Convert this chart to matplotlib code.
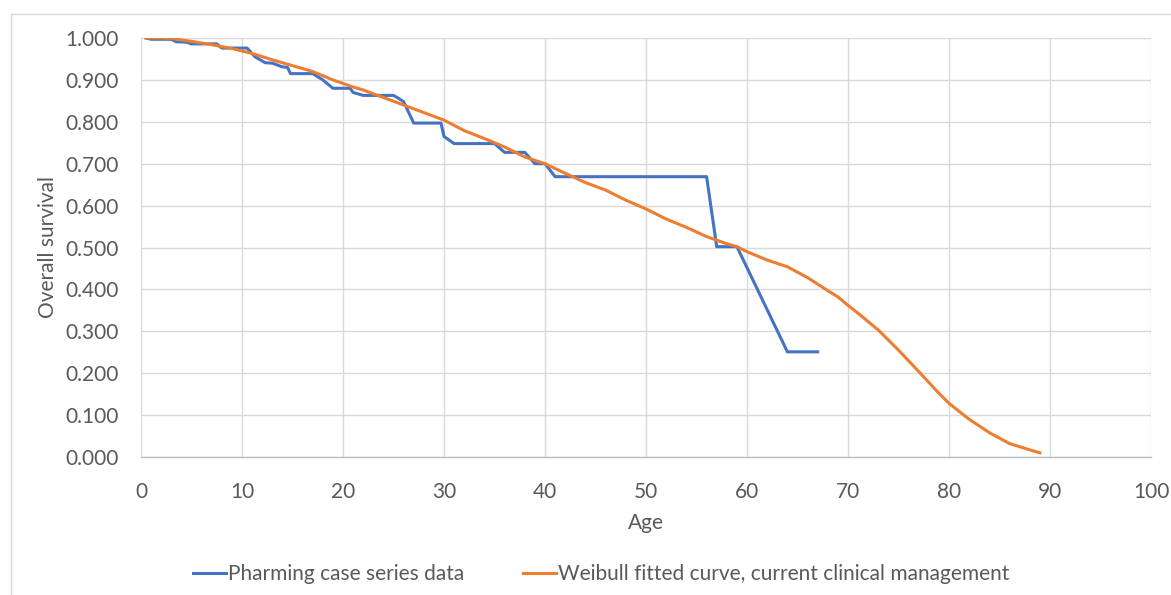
import matplotlib
matplotlib.use("Agg")
import matplotlib.pyplot as plt
from matplotlib.lines import Line2D

# Kaplan-Meier style case series (age, overall survival)
case_age = [0.5, 1, 3, 3.5, 4.5, 5, 7.5, 8, 10.5, 11.3, 12.3, 13, 14, 14.5, 14.8,
            17, 18, 19, 20.7, 21, 22, 25, 25.5, 26, 27, 29.7, 30, 31, 35, 36,
            38, 39, 40, 41, 56, 57, 59, 64, 67]
case_surv = [1.000, 0.997, 0.997, 0.991, 0.990, 0.986, 0.986, 0.976, 0.976, 0.955,
             0.941, 0.940, 0.931, 0.930, 0.915, 0.915, 0.900, 0.880, 0.880, 0.870,
             0.863, 0.863, 0.856, 0.848, 0.797, 0.797, 0.765, 0.748, 0.748, 0.727,
             0.727, 0.700, 0.700, 0.669, 0.669, 0.502, 0.502, 0.251, 0.251]

# Weibull fitted curve, current clinical management
fit_age = [0.5, 2, 3, 5, 7, 9, 11, 13, 15, 17, 19, 21, 22, 24, 26, 28, 30, 32, 34,
           36, 38, 40, 42, 44, 46, 48, 50, 52, 54, 56, 58, 59, 60, 62, 64, 66, 68,
           69, 70, 71, 73, 75, 77, 79, 80, 82, 84, 86, 88, 89]
fit_surv = [1.000, 1.000, 0.999, 0.992, 0.984, 0.975, 0.963, 0.948, 0.934, 0.920,
            0.900, 0.883, 0.876, 0.858, 0.840, 0.822, 0.804, 0.779, 0.760, 0.740,
            0.716, 0.700, 0.677, 0.655, 0.637, 0.613, 0.592, 0.568, 0.548, 0.526,
            0.509, 0.502, 0.490, 0.470, 0.454, 0.428, 0.397, 0.382, 0.362, 0.343,
            0.303, 0.255, 0.204, 0.152, 0.128, 0.090, 0.058, 0.032, 0.017, 0.010]

x_ticks = [0, 10, 20, 30, 40, 50, 60, 70, 80, 90, 100]
y_ticks = [0.0, 0.1, 0.2, 0.3, 0.4, 0.5, 0.6, 0.7, 0.8, 0.9, 1.0]

plt.rcParams['font.family'] = ['Lato', 'DejaVu Sans']
text_color = '#595959'
grid_color = '#d9d9d9'
fs = 15

W, H = 1171, 595
fig = plt.figure(figsize=(W / 100, H / 100), dpi=100)
ax = fig.add_axes([141 / W, 1 - 457 / H, (1151 - 141) / W, (457 - 38) / H])

ax.plot(case_age, case_surv, color='#4472C4', lw=2.2,
        label='Pharming case series data', solid_joinstyle='round')
ax.plot(fit_age, fit_surv, color='#ED7D31', lw=2.2,
        label='Weibull fitted curve, current clinical management', solid_joinstyle='round')

ax.set_xlim(0, 100)
ax.set_ylim(0, 1.0)
ax.set_xticks(x_ticks)
ax.set_yticks(y_ticks)
ax.set_yticklabels([f"{v:.3f}" for v in y_ticks])
ax.grid(True, color=grid_color, lw=1.0)
ax.set_axisbelow(True)
for side in ['top', 'right', 'left']:
    ax.spines[side].set_visible(False)
ax.spines['bottom'].set_color('#bfbfbf')
ax.spines['bottom'].set_linewidth(1.0)
ax.tick_params(length=0, labelsize=fs, colors=text_color)
ax.tick_params(axis='y', pad=16)
ax.tick_params(axis='x', pad=18)

ax.set_xlabel('Age', fontsize=fs, color=text_color, labelpad=8)
ax.set_ylabel('Overall survival', fontsize=fs, color=text_color, labelpad=5)

leg = fig.legend(loc='center', bbox_to_anchor=(601 / W, 1 - 574 / H), ncol=2,
                 frameon=False, fontsize=fs, handlelength=1.6, handletextpad=0.1,
                 columnspacing=2.8)
for t in leg.get_texts():
    t.set_color(text_color)

# chart area border
fig.add_artist(Line2D([11 / W, 11 / W], [0, 1 - 14 / H], transform=fig.transFigure,
                      color=grid_color, lw=1.0))
fig.add_artist(Line2D([11 / W, 1], [1 - 14 / H, 1 - 14 / H], transform=fig.transFigure,
                      color=grid_color, lw=1.0))

fig.savefig('out.png', dpi=100)
